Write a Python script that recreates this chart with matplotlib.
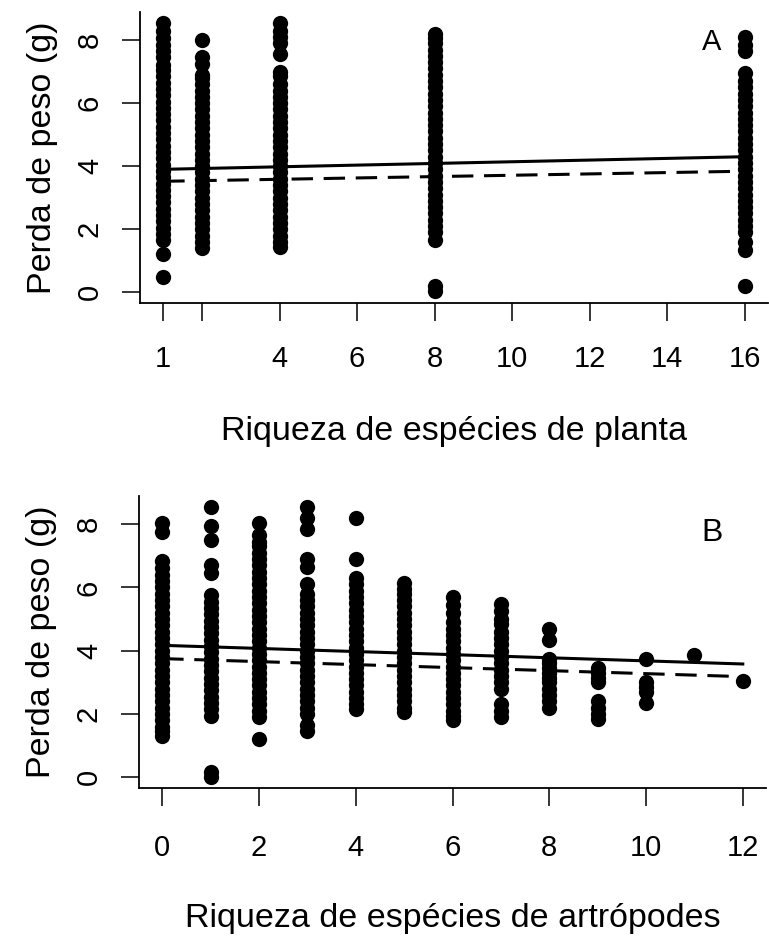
import numpy as np
import matplotlib.pyplot as plt

plt.rcParams['font.family'] = ['Liberation Sans', 'DejaVu Sans']

# Panel A: plant species richness
plant_levels = [1, 2, 4, 8, 16]
plant_loss_1 = [0.5, 1.2, 1.65, 1.85, 2.05, 2.25, 2.45, 2.65, 2.85, 3.05, 3.25, 3.45,
                3.65, 3.85, 4.05, 4.25, 4.45, 4.65, 4.85, 5.05, 5.25, 5.45, 5.65, 5.85,
                6.05, 6.25, 6.45, 6.65, 6.85, 7.05, 7.2, 7.45, 7.65, 7.85, 8.05, 8.3, 8.55]
plant_loss_2 = [1.4, 1.6, 1.8, 2.0, 2.2, 2.4, 2.6, 2.8, 3.0, 3.2, 3.4, 3.6, 3.8, 4.0,
                4.2, 4.4, 4.6, 4.8, 5.0, 5.2, 5.4, 5.6, 5.8, 6.0, 6.2, 6.4, 6.6, 6.8,
                6.9, 7.25, 7.45, 8.0]
plant_loss_4 = [1.45, 1.6, 1.8, 2.0, 2.2, 2.4, 2.6, 2.8, 3.0, 3.2, 3.4, 3.6, 3.8, 4.0,
                4.2, 4.4, 4.6, 4.8, 5.0, 5.2, 5.4, 5.6, 5.8, 6.0, 6.2, 6.4, 6.6, 6.85,
                7.0, 7.55, 7.9, 8.1, 8.3, 8.55]
plant_loss_8 = [0.05, 0.2, 1.65, 1.9, 2.1, 2.3, 2.5, 2.7, 2.9, 3.1, 3.3, 3.5, 3.7, 3.9,
                4.1, 4.3, 4.5, 4.7, 4.9, 5.1, 5.3, 5.5, 5.7, 5.9, 6.1, 6.3, 6.5, 6.7,
                6.9, 7.1, 7.3, 7.5, 7.7, 7.9, 8.05, 8.2]
plant_loss_16 = [0.2, 1.35, 1.6, 1.9, 2.1, 2.3, 2.5, 2.7, 2.9, 3.1, 3.3, 3.5, 3.7, 3.9,
                 4.1, 4.3, 4.5, 4.7, 4.9, 5.1, 5.3, 5.5, 5.7, 5.9, 6.1, 6.3, 6.5, 6.7,
                 6.95, 7.65, 7.85, 8.1]
plant_fit_x = [1, 16]
plant_fit_solid = [3.9, 4.3]
plant_fit_dashed = [3.52, 3.84]
plant_ticks = [1, 2, 4, 6, 8, 10, 12, 14, 16]
plant_ticklabels = ['1', '', '4', '6', '8', '10', '12', '14', '16']

# Panel B: arthropod species richness
arth_levels = [0, 1, 2, 3, 4, 5, 6, 7, 8, 9, 10, 11, 12]
arth_loss_0 = [1.3, 1.45, 1.6, 1.8, 2.0, 2.2, 2.4, 2.6, 2.8, 3.0, 3.2, 3.4, 3.6, 3.8,
               4.0, 4.2, 4.4, 4.6, 4.8, 5.0, 5.2, 5.4, 5.6, 5.8, 6.0, 6.2, 6.4, 6.6,
               6.85, 7.75, 8.05]
arth_loss_1 = [0.0, 0.15, 1.95, 2.15, 2.35, 2.55, 2.75, 2.95, 3.15, 3.35, 3.55, 3.75,
               3.95, 4.15, 4.35, 4.55, 4.75, 4.95, 5.15, 5.35, 5.55, 5.75, 6.45, 6.7,
               7.5, 7.95, 8.55]
arth_loss_2 = [1.2, 1.9, 2.1, 2.3, 2.5, 2.7, 2.9, 3.1, 3.3, 3.5, 3.7, 3.9, 4.1, 4.3,
               4.5, 4.7, 4.9, 5.1, 5.3, 5.5, 5.7, 5.9, 6.1, 6.3, 6.5, 6.7, 6.9, 7.1,
               7.3, 7.45, 7.65, 8.05]
arth_loss_3 = [1.45, 1.65, 2.0, 2.2, 2.4, 2.6, 2.8, 3.0, 3.2, 3.4, 3.6, 3.8, 4.0, 4.2,
               4.4, 4.6, 4.8, 5.0, 5.2, 5.4, 5.6, 5.8, 6.1, 6.65, 6.9, 7.85, 8.2, 8.55]
arth_loss_4 = [2.15, 2.3, 2.5, 2.7, 2.9, 3.1, 3.3, 3.5, 3.7, 3.9, 4.1, 4.3, 4.5, 4.7,
               4.9, 5.1, 5.3, 5.5, 5.7, 5.9, 6.1, 6.3, 6.9, 8.2]
arth_loss_5 = [2.05, 2.2, 2.4, 2.6, 2.8, 3.0, 3.2, 3.4, 3.6, 3.8, 4.0, 4.2, 4.4, 4.6,
               4.8, 5.0, 5.2, 5.4, 5.6, 5.8, 5.95, 6.15]
arth_loss_6 = [1.8, 1.95, 2.1, 2.3, 2.5, 2.7, 2.9, 3.1, 3.3, 3.5, 3.7, 3.9, 4.1, 4.3,
               4.5, 4.7, 4.9, 5.2, 5.45, 5.7]
arth_loss_7 = [1.9, 2.1, 2.3, 2.8, 3.0, 3.2, 3.4, 3.6, 3.8, 4.0, 4.2, 4.4, 4.6, 4.85,
               5.0, 5.25, 5.48]
arth_loss_8 = [2.2, 2.4, 2.6, 2.8, 3.0, 3.15, 3.3, 3.45, 3.6, 3.75, 4.35, 4.68]
arth_loss_9 = [1.85, 2.0, 2.2, 2.4, 3.0, 3.15, 3.3, 3.45]
arth_loss_10 = [2.35, 2.7, 2.85, 3.0, 3.75]
arth_loss_11 = [3.85]
arth_loss_12 = [3.05]
arth_fit_x = [0, 12]
arth_fit_solid = [4.17, 3.58]
arth_fit_dashed = [3.75, 3.18]
arth_ticks = [0, 2, 4, 6, 8, 10, 12]

y_ticks = [0, 2, 4, 6, 8]


def style_axis(ax, xpad):
    for side in ['top', 'right']:
        ax.spines[side].set_visible(False)
    for side in ['left', 'bottom']:
        ax.spines[side].set_linewidth(1.3)
    ax.tick_params(direction='out', length=13, width=1.1, labelsize=21)
    ax.tick_params(axis='x', pad=xpad)
    ax.tick_params(axis='y', pad=13, labelrotation=90)
    ax.set_yticks(y_ticks)
    plt.setp(ax.get_yticklabels(), va='center')
    ax.set_ylim(-0.34, 8.89)
    ax.set_ylabel('Perda de peso (g)', fontsize=24.5, labelpad=13)


fig = plt.figure(figsize=(7.69, 9.39), dpi=100)

axA = fig.add_axes([140 / 769, 1 - 303 / 939, 628 / 769, 291 / 939])
plant_cols = [plant_loss_1, plant_loss_2, plant_loss_4, plant_loss_8, plant_loss_16]
for lvl, vals in zip(plant_levels, plant_cols):
    axA.plot(np.full(len(vals), lvl), vals, 'o', color='black', ms=11, mew=0)
axA.plot(plant_fit_x, plant_fit_solid, color='black', lw=2.2)
axA.plot(plant_fit_x, plant_fit_dashed, color='black', lw=2.2, dashes=(7, 3.5))
axA.set_xlim(0.4, 16.6)
axA.set_xticks(plant_ticks)
axA.set_xticklabels(plant_ticklabels)
style_axis(axA, 17)
axA.set_xlabel('Riqueza de espécies de planta', fontsize=24.5, labelpad=31)
axA.text(0.911, 0.897, 'A', transform=axA.transAxes, fontsize=21,
         ha='center', va='center')

axB = fig.add_axes([139 / 769, 1 - 788 / 939, 627 / 769, 292 / 939])
arth_cols = [arth_loss_0, arth_loss_1, arth_loss_2, arth_loss_3, arth_loss_4,
             arth_loss_5, arth_loss_6, arth_loss_7, arth_loss_8, arth_loss_9,
             arth_loss_10, arth_loss_11, arth_loss_12]
for lvl, vals in zip(arth_levels, arth_cols):
    axB.plot(np.full(len(vals), lvl), vals, 'o', color='black', ms=11, mew=0)
axB.plot(arth_fit_x, arth_fit_solid, color='black', lw=2.2)
axB.plot(arth_fit_x, arth_fit_dashed, color='black', lw=2.2, dashes=(7, 3.5))
axB.set_xlim(-0.48, 12.48)
axB.set_xticks(arth_ticks)
style_axis(axB, 20)
axB.set_xlabel('Riqueza de espécies de artrópodes', fontsize=24.5, labelpad=30)
axB.text(0.914, 0.873, 'B', transform=axB.transAxes, fontsize=23,
         ha='center', va='center')

fig.savefig('out.png', dpi=100)
